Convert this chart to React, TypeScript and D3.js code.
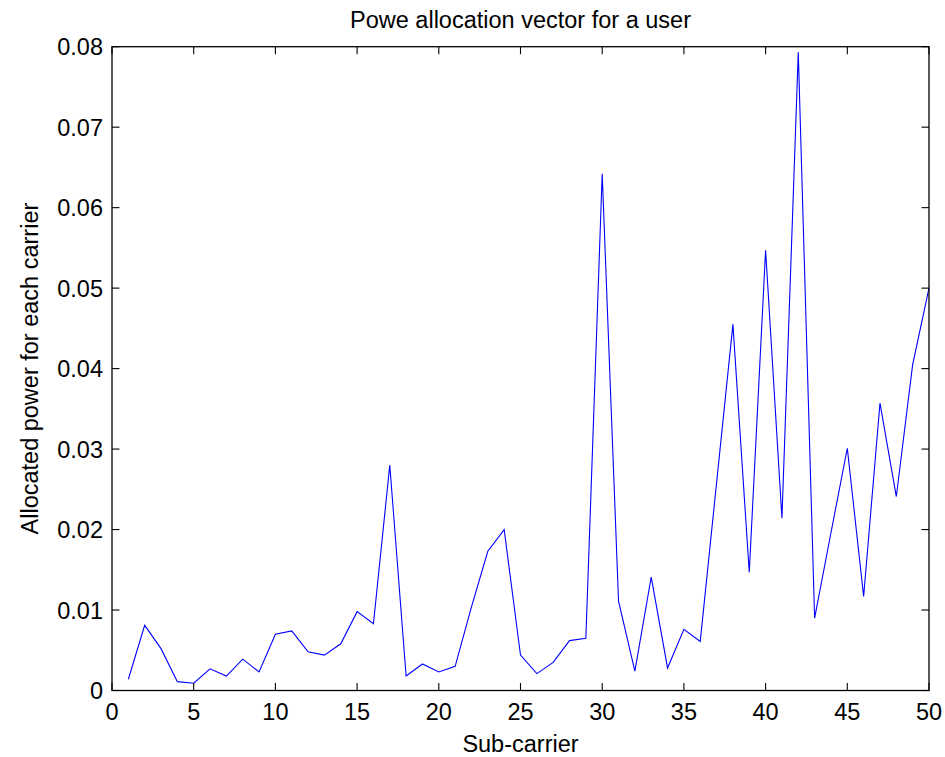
import React from "react";
import * as d3 from "d3";

const subCarriers: number[] = Array.from({ length: 50 }, (_, i) => i + 1);
const powerValues: number[] = [
  0.0014, 0.0081, 0.0052, 0.0011, 0.0009, 0.0027, 0.0018, 0.0039, 0.0023, 0.007,
  0.0074, 0.0048, 0.0044, 0.0058, 0.0098, 0.0083, 0.028, 0.0018, 0.0033, 0.0023,
  0.003, 0.0104, 0.0173, 0.02, 0.0044, 0.0021, 0.0035, 0.0062, 0.0065, 0.0642,
  0.0111, 0.0024, 0.0141, 0.0028, 0.0076, 0.0061, 0.0258, 0.0455, 0.0147, 0.0547,
  0.0214, 0.0793, 0.009, 0.0196, 0.0301, 0.0117, 0.0357, 0.0241, 0.0405, 0.05,
];
const xTicks: number[] = [0, 5, 10, 15, 20, 25, 30, 35, 40, 45, 50];
const yTicks: number[] = [0, 0.01, 0.02, 0.03, 0.04, 0.05, 0.06, 0.07, 0.08];
const yTickLabels: string[] = ["0", "0.01", "0.02", "0.03", "0.04", "0.05", "0.06", "0.07", "0.08"];
const titleText = "Powe allocation vector for a user";
const xLabel = "Sub-carrier";
const yLabel = "Allocated power for each carrier";

export default function App() {
  const W = 945;
  const H = 757;
  const left = 112;
  const right = 929;
  const top = 46.7;
  const bottom = 690.5;
  const x = d3.scaleLinear().domain([0, 50]).range([left, right]);
  const y = d3.scaleLinear().domain([0, 0.08]).range([bottom, top]);
  const line = d3
    .line<number>()
    .x((_, i) => x(subCarriers[i]))
    .y((d) => y(d));
  const font = "'Liberation Sans', Arial, Helvetica, sans-serif";
  const fs = 23.5;
  const tl = 7.5;
  return (
    <svg
      width={W}
      height={H}
      style={{ position: "absolute", left: 0, top: 0, background: "#fff" }}
      fontFamily={font}
    >
      <rect x={0} y={0} width={W} height={H} fill="#fff" />
      <path d={line(powerValues) || ""} fill="none" stroke="#0000ff" strokeWidth={1.1} />
      <rect
        x={left}
        y={top}
        width={right - left}
        height={bottom - top}
        fill="none"
        stroke="#000"
        strokeWidth={1.3}
      />
      {xTicks.map((t) => (
        <g key={"x" + t}>
          <line x1={x(t)} x2={x(t)} y1={bottom} y2={bottom - tl} stroke="#000" strokeWidth={1.1} />
          <line x1={x(t)} x2={x(t)} y1={top} y2={top + tl} stroke="#000" strokeWidth={1.1} />
          <text x={x(t)} y={720} textAnchor="middle" fontSize={fs} fill="#000">
            {t}
          </text>
        </g>
      ))}
      {yTicks.map((t, i) => (
        <g key={"y" + t}>
          <line x1={left} x2={left + tl} y1={y(t)} y2={y(t)} stroke="#000" strokeWidth={1.1} />
          <line x1={right} x2={right - tl} y1={y(t)} y2={y(t)} stroke="#000" strokeWidth={1.1} />
          <text x={103} y={y(t) + 8.5} textAnchor="end" fontSize={fs} fill="#000">
            {yTickLabels[i]}
          </text>
        </g>
      ))}
      <text x={(left + right) / 2} y={28} textAnchor="middle" fontSize={fs} fill="#000">
        {titleText}
      </text>
      <text x={(left + right) / 2} y={752} textAnchor="middle" fontSize={fs} fill="#000">
        {xLabel}
      </text>
      <text
        transform={`translate(38, ${(top + bottom) / 2}) rotate(-90)`}
        textAnchor="middle"
        fontSize={fs}
        fill="#000"
      >
        {yLabel}
      </text>
    </svg>
  );
}
